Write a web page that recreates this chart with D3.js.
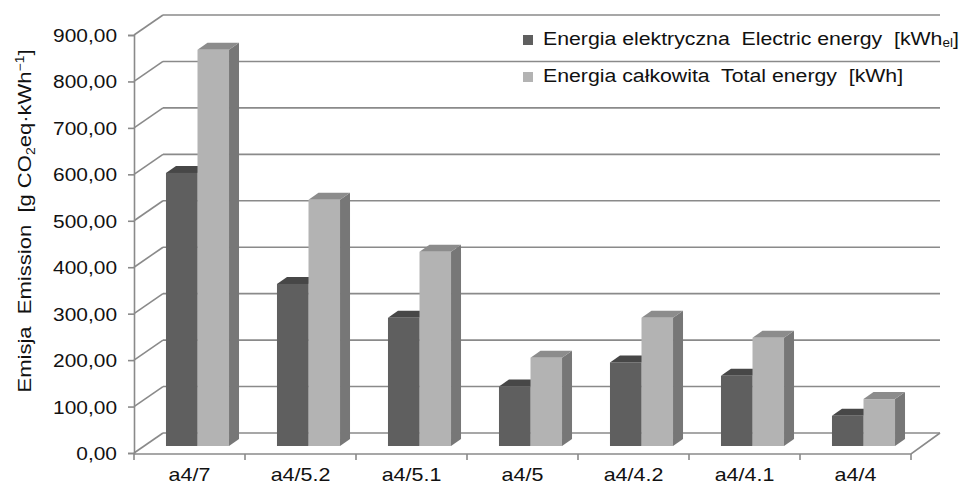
<!DOCTYPE html>
<html>
<head>
<meta charset="utf-8">
<script src="https://cdn.jsdelivr.net/npm/d3@7"></script>
<style>
  body { margin: 0; background: #fff; }
  text { font-family: "Liberation Sans", Arial, sans-serif; fill: #111; white-space: pre; }
</style>
</head>
<body>
<div id="viz"></div>
<script>
// data
const categories = ["a4/7", "a4/5.2", "a4/5.1", "a4/5", "a4/4.2", "a4/4.1", "a4/4"];
const seriesNames = ["electric", "total"];
const electric = [588, 349, 276, 128, 180, 151, 65];
const total = [853, 530, 418, 190, 276, 233, 101];
const yTicks = [0, 100, 200, 300, 400, 500, 600, 700, 800, 900];

const CONST = {
  width: 963, height: 486,
  plot: { left: 134, right: 911, bottom: 453, top: 35 },
  wall: { dx: 29, dy: -20 },      // back wall offset
  barPlane: { dx: 8, dy: -7 },    // where the bars stand
  depth: { dx: 10, dy: -7 },      // bar thickness
  font: 19, stretch: 1.1,         // the original type is a bit wider than Arial
  grid: "#8a8a8a",
  colors: {
    electric: { front: "#5f5f5f", top: "#474747", side: "#4f4f4f" },
    total:    { front: "#b3b3b3", top: "#8c8c8c", side: "#777777" }
  }
};

const svg = d3.select("#viz").append("svg")
  .attr("width", CONST.width)
  .attr("height", CONST.height);

const P = CONST.plot, W = CONST.wall;

// text placed at (x,y), widened horizontally
function label(parent, x, y, k, rot) {
  return parent.append("text")
    .attr("transform", `translate(${x},${y})${rot ? ` rotate(${rot})` : ""} scale(${k},1)`)
    .attr("font-size", CONST.font);
}

const y = d3.scaleLinear().domain([0, 900]).range([P.bottom, P.top]);
const x0 = d3.scaleBand().domain(categories).range([P.left, P.right])
  .paddingInner(0.432).paddingOuter(0.216);
const x1 = d3.scaleBand().domain(seriesNames).range([0, x0.bandwidth()]);

const fmt = d3.formatLocale({decimal: ",", thousands: " ", grouping: [3], currency: ["", ""]}).format(".2f");

// back wall + side wall gridlines
const grid = svg.append("g").attr("stroke", CONST.grid).attr("stroke-width", 1.6).attr("fill", "none");
yTicks.forEach(v => {
  grid.append("line")
    .attr("x1", P.left + W.dx).attr("y1", y(v) + W.dy)
    .attr("x2", P.right + W.dx).attr("y2", y(v) + W.dy);
  grid.append("line")
    .attr("x1", P.left).attr("y1", y(v))
    .attr("x2", P.left + W.dx).attr("y2", y(v) + W.dy);
});
// floor front + right edge
grid.append("path")
  .attr("d", `M${P.left},${y(0) + 1}H${P.right}L${P.right + W.dx},${y(0) + W.dy}`);

// y axis (labels drawn separately so they can be widened)
const yAxis = svg.append("g").attr("transform", `translate(${P.left},0)`)
  .call(d3.axisLeft(y).tickValues(yTicks).tickSize(6).tickFormat(""));
yAxis.select(".domain").attr("stroke", CONST.grid).attr("stroke-width", 1.6);
yAxis.selectAll(".tick line").attr("stroke", CONST.grid).attr("stroke-width", 1.6);
yTicks.forEach(v => {
  label(svg, 117, y(v) + 7, CONST.stretch).attr("text-anchor", "end").text(fmt(v));
});

// x axis: ticks on band edges, labels in the middle
const xAxis = svg.append("g");
d3.range(categories.length + 1).forEach(i => {
  const xe = P.left + i * x0.step();
  xAxis.append("line").attr("x1", xe).attr("x2", xe)
    .attr("y1", y(0) + 1).attr("y2", y(0) + 7)
    .attr("stroke", CONST.grid).attr("stroke-width", 1.6);
});
categories.forEach(c => {
  label(xAxis, x0(c) + x0.bandwidth() / 2, 481, 1.13).attr("text-anchor", "middle").text(c);
});

// 3D bars
const bars = svg.append("g");
const BP = CONST.barPlane, D = CONST.depth;
categories.forEach((c, i) => {
  [["electric", electric[i]], ["total", total[i]]].forEach(([s, v]) => {
    const col = CONST.colors[s];
    const x = x0(c) + x1(s) + BP.dx;
    const w = x1.bandwidth();
    const yt = y(v) + BP.dy, yb = y(0) + BP.dy;
    const g = bars.append("g");
    g.append("polygon")
      .attr("points", [[x + w, yt], [x + w + D.dx, yt + D.dy], [x + w + D.dx, yb + D.dy], [x + w, yb]].join(" "))
      .attr("fill", col.side);
    g.append("polygon")
      .attr("points", [[x, yt], [x + D.dx, yt + D.dy], [x + w + D.dx, yt + D.dy], [x + w, yt]].join(" "))
      .attr("fill", col.top);
    g.append("rect")
      .attr("x", x).attr("y", yt)
      .attr("width", w).attr("height", yb - yt)
      .attr("fill", col.front);
  });
});

// y axis title
const yTitle = label(svg, 31, 221, 1.16, -90).attr("text-anchor", "middle");
yTitle.append("tspan").text("Emisja  Emission  [g CO");
yTitle.append("tspan").text("2").attr("font-size", 12).attr("dy", 4);
yTitle.append("tspan").text("eq·kWh").attr("dy", -4);
yTitle.append("tspan").text("−1").attr("font-size", 12).attr("dy", -7);
yTitle.append("tspan").text("]").attr("dy", 7);

// legend
const legend = svg.append("g");
const legendRows = [
  { s: "electric", main: "Energia elektryczna  Electric energy  [kWh", sub: "el", end: "]", y: 45 },
  { s: "total", main: "Energia całkowita  Total energy  [kWh]", sub: null, end: null, y: 82 }
];
legendRows.forEach(r => {
  legend.append("rect").attr("x", 523).attr("y", r.y - 10).attr("width", 10).attr("height", 10)
    .attr("fill", CONST.colors[r.s].front);
  const t = label(legend, 543, r.y, 1.12);
  t.append("tspan").text(r.main);
  if (r.sub) {
    t.append("tspan").text(r.sub).attr("font-size", 12).attr("dy", 2);
    t.append("tspan").text(r.end).attr("dy", -2);
  }
});
</script>
</body>
</html>
